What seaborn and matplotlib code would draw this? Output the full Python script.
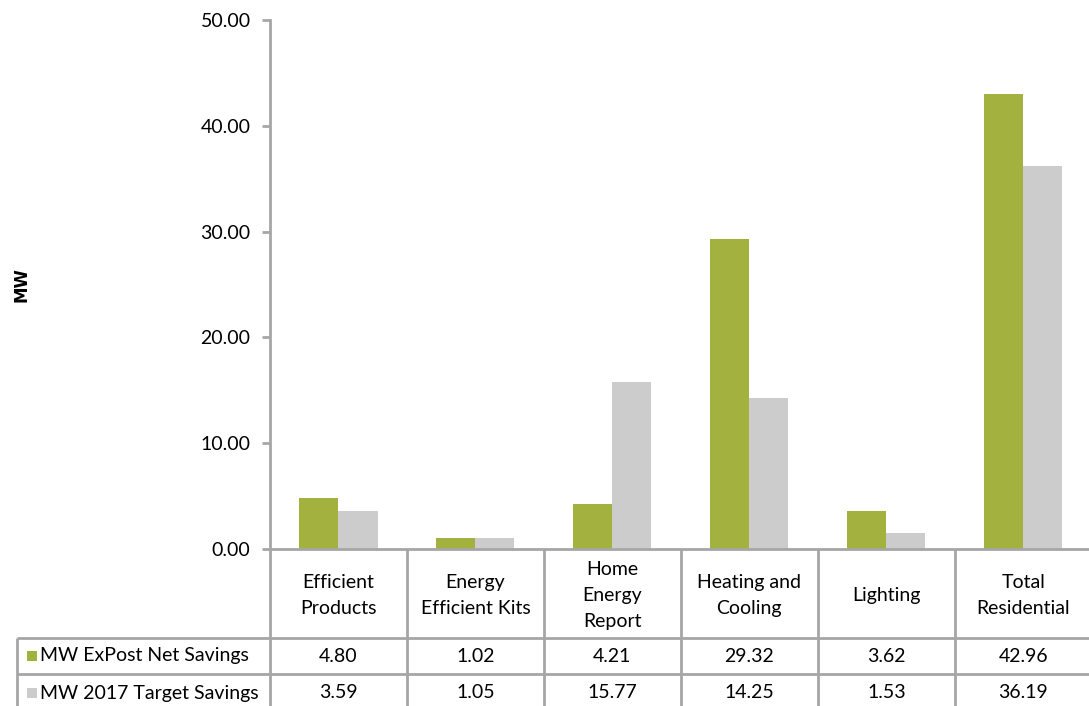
import matplotlib
matplotlib.use("Agg")
import matplotlib.pyplot as plt
from matplotlib.lines import Line2D
from matplotlib.patches import Rectangle
from matplotlib.ticker import FormatStrFormatter
import seaborn as sns
import pandas as pd

# ---- data ----
categories = ["Efficient\nProducts", "Energy\nEfficient Kits", "Home\nEnergy\nReport",
              "Heating and\nCooling", "Lighting", "Total\nResidential"]
series_names = ["MW ExPost Net Savings", "MW 2017 Target Savings"]
expost_net = [4.80, 1.02, 4.21, 29.32, 3.62, 42.96]
target_2017 = [3.59, 1.05, 15.77, 14.25, 1.53, 36.19]
y_ticks = [0, 10, 20, 30, 40, 50]
y_label = "MW"

colors = ["#A3B13E", "#CCCCCC"]
line_color = "#A6A6A6"

sns.set_style("white")
plt.rcParams["font.family"] = ["Lato", "DejaVu Sans"]
plt.rcParams["text.color"] = "black"
FS = 14

df = pd.DataFrame({
    "category": categories * 2,
    "series": [series_names[0]] * len(categories) + [series_names[1]] * len(categories),
    "MW": expost_net + target_2017,
})

W, H = 1089, 706
fig = plt.figure(figsize=(W / 100, H / 100), dpi=100)
left, right, top, bottom = 270, 1089, 20, 549
ax = fig.add_axes([left / W, 1 - bottom / H, (right - left) / W, (bottom - top) / H])

sns.barplot(data=df, x="category", y="MW", hue="series", order=categories,
            hue_order=series_names, palette=colors, saturation=1, width=0.57,
            linewidth=0, legend=False, ax=ax)

xmin, xmax = -0.5, 5.48
ax.set_xlim(xmin, xmax)
ax.set_ylim(0, 50)
ax.set_yticks(y_ticks)
ax.yaxis.set_major_formatter(FormatStrFormatter("%.2f"))
ax.tick_params(axis="y", which="both", left=True, length=6, width=2, color=line_color,
               labelcolor="black", labelsize=FS, pad=8)
ax.tick_params(axis="x", bottom=False, labelbottom=False)
ax.set_xlabel("")
ax.set_ylabel("")
for s in ["top", "right"]:
    ax.spines[s].set_visible(False)
for s in ["left", "bottom"]:
    ax.spines[s].set_color(line_color)
    ax.spines[s].set_linewidth(2)
ax.grid(False)

# bold axis title on the far left
fig.text(22 / W, 1 - 285 / H, y_label, rotation=90, ha="center", va="center",
         fontsize=12, fontweight="bold", family="DejaVu Sans", color="black")

# ---- data table under the axis ----
ah = bottom - top
aw = right - left
def fy(px):
    return (bottom - px) / ah
def fx_px(px):
    return (px - left) / aw
def fx_data(x):
    return (x - xmin) / (xmax - xmin)

y_head = fy(638)
y_row1 = fy(674)
y_row2 = fy(712)
y_end = fy(720)
x_lab = fx_px(17)

def tline(xs, ys):
    ax.add_line(Line2D(xs, ys, transform=ax.transAxes, color=line_color, lw=2,
                       clip_on=False, solid_capstyle="butt"))

tline([0, 0], [0, y_end])
for i in range(len(categories)):
    xb = fx_data(i + 0.5)
    tline([xb, xb], [0, y_end])
tline([x_lab, 1], [y_head, y_head])
tline([x_lab, 1], [y_row1, y_row1])
tline([x_lab, 1], [y_row2, y_row2])
tline([x_lab, x_lab], [y_head, y_end])

for i, cat in enumerate(categories):
    xc = fx_data(i)
    ax.text(xc, (0 + y_head) / 2 - 2 / ah, cat, transform=ax.transAxes, ha="center",
            va="center", fontsize=FS, linespacing=1.62, clip_on=False)
    ax.text(xc, (y_head + y_row1) / 2, f"{expost_net[i]:.2f}", transform=ax.transAxes,
            ha="center", va="center", fontsize=FS, clip_on=False)
    ax.text(xc, (y_row1 + y_row2) / 2, f"{target_2017[i]:.2f}", transform=ax.transAxes,
            ha="center", va="center", fontsize=FS, clip_on=False)

sq_w = 10 / aw
sq_h = 10 / ah
for name, col, (y0, y1) in zip(series_names, colors, [(y_head, y_row1), (y_row1, y_row2)]):
    yc = (y0 + y1) / 2
    ax.add_patch(Rectangle((fx_px(27), yc - sq_h / 2), sq_w, sq_h, transform=ax.transAxes,
                           facecolor=col, edgecolor="none", clip_on=False))
    ax.text(fx_px(40), yc, name, transform=ax.transAxes, ha="left", va="center",
            fontsize=FS, clip_on=False)

fig.savefig("out.png", dpi=100)
